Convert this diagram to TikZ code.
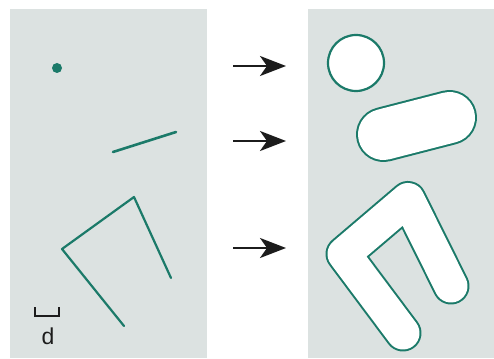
\documentclass[tikz,border=0pt]{standalone}
\usepackage{fontspec}
\setsansfont{Liberation Sans}
\usepackage{tikz}
\usetikzlibrary{arrows.meta}
\definecolor{zeminGri}{HTML}{DCE2E1}
\definecolor{cizgiYesil}{HTML}{1B7A69}
\definecolor{okSiyah}{HTML}{1C1C1C}
\tikzset{
  panel/.style={fill=zeminGri,draw=none},
  ince/.style={cizgiYesil,line width=2.2pt,line cap=round,line join=round},
  dis/.style={cizgiYesil,line width=#1,line cap=round,line join=round},
  ic/.style={white,line width=#1,line cap=round,line join=round},
  buyukOk/.style={okSiyah,line width=2.5pt,-{Stealth[length=26pt,width=20pt,inset=7pt]}}
}

\begin{document}
\begin{tikzpicture}[x=1pt,y=-1pt]
\useasboundingbox (0,0) rectangle (494,358);
% 1) Sol panel (nokta, parca, kirik cizgi)
\fill[panel] (10,9) rectangle (207,358);
\fill[cizgiYesil] (57,68) circle (5pt);
\draw[ince,line width=2.6pt] (113,152)--(176,132);
\draw[ince] (124,326)--(62,249)--(134,197)--(171,278);
\draw[okSiyah,line width=2.5pt] (35,307)--(35,316)--(59,316)--(59,307);
\node[okSiyah,font=\sffamily\fontsize{23}{23}\selectfont] (dEtiket) at (48,336) {d};
% 2) Oklar
\coordinate (ok1a) at (233,66);  \coordinate (ok1b) at (286,66);
\coordinate (ok2a) at (233,141); \coordinate (ok2b) at (286,141);
\coordinate (ok3a) at (233,248); \coordinate (ok3b) at (286,248);
\draw[buyukOk] (ok1a)--(ok1b);
\draw[buyukOk] (ok2a)--(ok2b);
\draw[buyukOk] (ok3a)--(ok3b);
% 3) Sag panel (d kadar genisletilmis)
\fill[panel] (308,9) rectangle (494,358);
\filldraw[fill=white,draw=cizgiYesil,line width=2.2pt] (356,63) circle (28pt);
\draw[dis=55pt] (383.5,134.5)--(449.5,117.5);
\draw[ic=51pt] (383.5,134.5)--(449.5,117.5);
\draw[dis=37pt] (403,333)--(344,254)--(408,199.5)--(451,286);
\draw[ic=33pt] (403,333)--(344,254)--(408,199.5)--(451,286);
\end{tikzpicture}
\end{document}
